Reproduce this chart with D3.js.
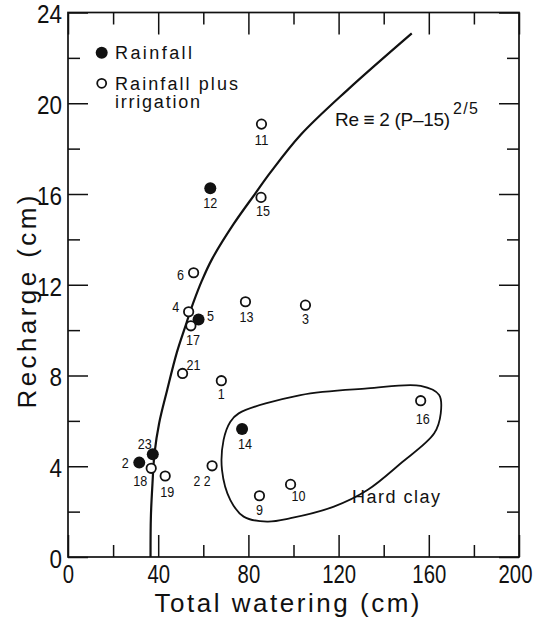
<!DOCTYPE html>
<html><head><meta charset="utf-8">
<script src="https://cdn.jsdelivr.net/npm/d3@7"></script>
<style>
body{margin:0;background:#fff}
text{font-family:"Liberation Sans",Arimo,"DejaVu Sans",sans-serif;fill:#111}
</style>
</head><body>
<svg id="chart" width="539" height="622"></svg>
<script>
// ---- data ----
const pointIds   = [1, 2, 3, 4, 5, 6, 9, 10, 11, 12, 13, 14, 15, 16, 17, 18, 19, 21, 22, 23];
const pointLabel = ["1","2","3","4","5","6","9","10","11","12","13","14","15","16","17","18","19","21","2 2","23"];
const watering   = [68.0, 31.6, 105.3, 53.5, 57.9, 55.7, 84.9, 98.7, 85.8, 63.1, 78.7, 77.2, 85.6, 156.4, 54.5, 36.9, 43.1, 50.8, 63.9, 37.6];
const recharge   = [7.77, 4.16, 11.1, 10.81, 10.47, 12.53, 2.70, 3.20, 19.08, 16.25, 11.25, 5.64, 15.85, 6.89, 10.19, 3.91, 3.57, 8.09, 4.02, 4.53];
const source     = ["irr","rain","irr","irr","rain","irr","irr","irr","irr","rain","irr","rain","irr","irr","irr","irr","irr","irr","irr","rain"];

// fitted curve Re = 2(P-15)^(2/5), as traced on the figure
const curveP  = [36.6, 36.76, 37.47, 38.36, 40.44, 43.87, 48.31, 51.78, 55.69, 59.42, 63.87, 73.47, 83.11, 89.78, 103.11, 123.87, 152.44];
const curveRe = [0, 1.78, 3.25, 4.57, 5.91, 7.32, 9.03, 10.09, 11.24, 12.19, 13.13, 14.68, 16.03, 16.95, 18.60, 20.58, 23.08];

// "Hard clay" outline
const clayP  = [75.7, 103.1, 132.8, 156.4, 164.6, 165.3, 162.4, 147.6, 132.8, 117.9, 98.7, 88.3, 77.9, 72.0, 68.3, 69.0, 72.0];
const clayRe = [6.33, 7.14, 7.43, 7.54, 7.14, 6.33, 5.45, 4.13, 2.95, 2.22, 1.71, 1.56, 1.78, 2.51, 3.83, 5.16, 5.96];

const xMajorTicks = [0, 40, 80, 120, 160, 200];
const xMinorTicks = [20, 60, 100, 140, 180];
const yMajorTicks = [0, 4, 8, 12, 16, 20, 24];
const yMinorTicks = [2, 6, 10, 14, 18, 22];

// ---- label placement (pixels relative to the point) ----
const labelOffset = {
  1:[0,18], 2:[-14,5], 3:[0,19], 4:[-13,0], 5:[12,2], 6:[-13,7], 9:[0,19], 10:[8,17],
  11:[0,21], 12:[0,20], 13:[1,20], 14:[3,20], 15:[2,19], 16:[2,23], 17:[2,19],
  18:[-11,18], 19:[2,21], 21:[11,-3], 22:[-10,20], 23:[-8,-5]
};

const svg = d3.select("#chart");
const x = d3.scaleLinear().domain([0, 200]).range([68, 519]);
const y = d3.scaleLinear().domain([0, 24]).range([557, 12.5]);
const ink = "#111";

function fit(sel, len, mode) {
  return sel.attr("textLength", len).attr("lengthAdjust", mode || "spacing");
}

// frame
svg.append("rect").attr("x", x(0)).attr("y", y(24))
  .attr("width", x(200) - x(0)).attr("height", y(0) - y(24))
  .attr("fill", "none").attr("stroke", ink).attr("stroke-width", 1.7);

function styleAxis(g) {
  g.select(".domain").remove();
  g.selectAll("line").attr("stroke", ink).attr("stroke-width", 1.5);
  g.selectAll("text").attr("font-size", 26).attr("fill", ink)
    .attr("textLength", d => String(d).length * 11.3).attr("lengthAdjust", "spacingAndGlyphs");
}

// bottom
svg.append("g").attr("transform", `translate(0,${y(0)})`)
  .call(d3.axisBottom(x).tickValues(xMajorTicks).tickSizeInner(-22).tickSizeOuter(0).tickPadding(8).tickFormat(d3.format("d")))
  .call(styleAxis)
  .call(g => g.selectAll("text").filter(d => d === 200).attr("dx", -4));
svg.append("g").attr("transform", `translate(0,${y(0)})`)
  .call(d3.axisBottom(x).tickValues(xMinorTicks).tickSizeInner(-12).tickSizeOuter(0).tickFormat(""))
  .call(styleAxis);
// top
svg.append("g").attr("transform", `translate(0,${y(24)})`)
  .call(d3.axisTop(x).tickValues(xMajorTicks).tickSizeInner(-22).tickSizeOuter(0).tickFormat(""))
  .call(styleAxis);
svg.append("g").attr("transform", `translate(0,${y(24)})`)
  .call(d3.axisTop(x).tickValues(xMinorTicks).tickSizeInner(-12).tickSizeOuter(0).tickFormat(""))
  .call(styleAxis);
// left
svg.append("g").attr("transform", `translate(${x(0)},0)`)
  .call(d3.axisLeft(y).tickValues(yMajorTicks).tickSizeInner(-20).tickSizeOuter(0).tickPadding(6).tickFormat(d3.format("d")))
  .call(styleAxis)
  .call(g => g.selectAll("text").attr("dy", "0.4em").attr("textLength", d => String(d).length * 12.5));
svg.append("g").attr("transform", `translate(${x(0)},0)`)
  .call(d3.axisLeft(y).tickValues(yMinorTicks).tickSizeInner(-12).tickSizeOuter(0).tickFormat(""))
  .call(styleAxis);
// right
svg.append("g").attr("transform", `translate(${x(200)},0)`)
  .call(d3.axisRight(y).tickValues(yMajorTicks).tickSizeInner(-20).tickSizeOuter(0).tickFormat(""))
  .call(styleAxis);
svg.append("g").attr("transform", `translate(${x(200)},0)`)
  .call(d3.axisRight(y).tickValues(yMinorTicks).tickSizeInner(-12).tickSizeOuter(0).tickFormat(""))
  .call(styleAxis);

// axis titles
fit(svg.append("text").attr("x", 287).attr("y", 612).attr("text-anchor", "middle")
  .attr("font-size", 26).text("Total watering (cm)"), 265);
fit(svg.append("text").attr("transform", "translate(36,302) rotate(-90)").attr("text-anchor", "middle")
  .attr("font-size", 26).text("Recharge (cm)"), 213);

// fitted curve
const curveData = curveP.map((p, i) => [p, curveRe[i]]);
svg.append("path").datum(curveData)
  .attr("d", d3.line().x(d => x(d[0])).y(d => y(d[1])).curve(d3.curveCatmullRom))
  .attr("fill", "none").attr("stroke", ink).attr("stroke-width", 2.2);

// hard clay outline
const clayData = clayP.map((p, i) => [p, clayRe[i]]);
svg.append("path").datum(clayData)
  .attr("d", d3.line().x(d => x(d[0])).y(d => y(d[1])).curve(d3.curveCatmullRomClosed))
  .attr("fill", "none").attr("stroke", ink).attr("stroke-width", 1.8);

// points
const pts = pointIds.map((id, i) => ({id, label: pointLabel[i], p: watering[i], r: recharge[i], s: source[i]}));
const g = svg.append("g");
g.selectAll("circle").data(pts).join("circle")
  .attr("cx", d => x(d.p)).attr("cy", d => y(d.r))
  .attr("r", d => d.s === "rain" ? 6 : 4.7)
  .attr("fill", d => d.s === "rain" ? ink : "#fff")
  .attr("stroke", ink).attr("stroke-width", d => d.s === "rain" ? 0 : 1.8);
g.selectAll("text").data(pts).join("text")
  .attr("x", d => x(d.p) + labelOffset[d.id][0])
  .attr("y", d => y(d.r) + labelOffset[d.id][1])
  .attr("text-anchor", "middle").attr("font-size", 14)
  .attr("textLength", d => d.label.length === 1 ? 7 : (d.label.length === 2 ? 14 : 17))
  .attr("lengthAdjust", "spacingAndGlyphs")
  .text(d => d.label);

// legend
svg.append("circle").attr("cx", 101.7).attr("cy", 52.7).attr("r", 6).attr("fill", ink);
fit(svg.append("text").attr("x", 115).attr("y", 59.3).attr("font-size", 18).text("Rainfall"), 77);
svg.append("circle").attr("cx", 101.7).attr("cy", 83.3).attr("r", 4.5).attr("fill", "#fff").attr("stroke", ink).attr("stroke-width", 1.8);
fit(svg.append("text").attr("x", 115).attr("y", 90).attr("font-size", 18).text("Rainfall plus"), 123);
fit(svg.append("text").attr("x", 115).attr("y", 108.3).attr("font-size", 18).text("irrigation"), 85);

// equation
fit(svg.append("text").attr("x", 335).attr("y", 126).attr("font-size", 19).text("Re \u2261 2 (P\u201315)"), 115);
fit(svg.append("text").attr("x", 453).attr("y", 114).attr("font-size", 16).text("2/5"), 25);

// hard clay text
fit(svg.append("text").attr("x", 352).attr("y", 503).attr("font-size", 18).text("Hard clay"), 88);
</script>
</body></html>
